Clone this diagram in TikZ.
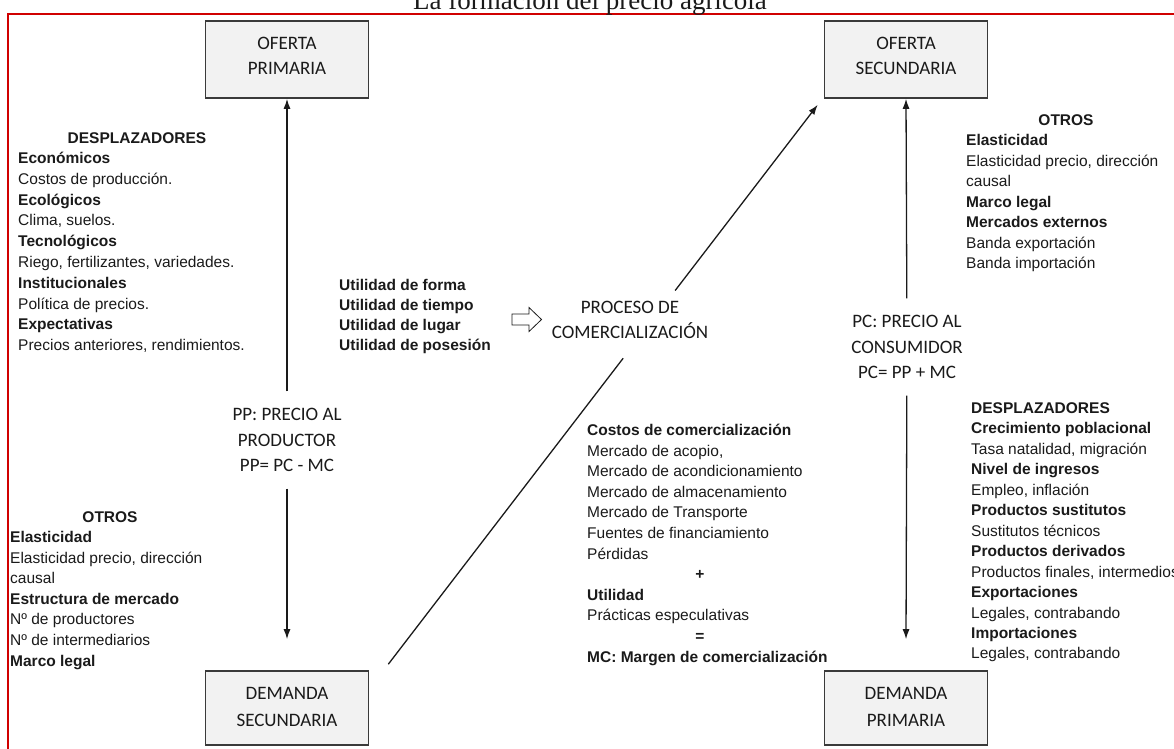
\documentclass[tikz,border=0pt]{standalone}
\usepackage{fontspec}
\setmainfont{Liberation Sans}
\newfontfamily\CalibriLike{Carlito}
\newfontfamily\TimesLike{Liberation Serif}
\usetikzlibrary{arrows.meta,calc}
\definecolor{framered}{HTML}{D00000}
\definecolor{boxfill}{HTML}{F2F2F2}
\definecolor{boxline}{HTML}{3A3A3A}
\definecolor{ink}{HTML}{1A1A1A}

\begin{document}
\begin{tikzpicture}[x=1pt,y=-1pt,
  caja/.style={draw=boxline, fill=boxfill, line width=1.6pt, minimum width=163pt,
    minimum height=75pt, align=center, inner sep=0pt,
    font=\CalibriLike\fontsize{19}{27}\selectfont, text=ink},
  lbl/.style={align=center, inner sep=0pt, outer ysep=17pt,
    font=\CalibriLike\fontsize{19}{25.5}\selectfont, text=ink},
  lst/.style={anchor=base west, inner sep=0pt, font=\fontsize{15.5}{18}\selectfont, text=ink},
  hdr/.style={anchor=base, inner sep=0pt, font=\bfseries\fontsize{15.5}{18}\selectfont, text=ink},
  linea/.style={draw=ink, line width=1.3pt},
  flecha/.style={linea, -{Latex[length=10pt,width=7pt]}}
]
\useasboundingbox (0,0) rectangle (1174,748);

% red frame, open towards the right and bottom edges
\draw[framered, line width=2pt] (1190,14) -- (8,14) -- (8,760);

% title
\node[anchor=base, inner sep=0pt, font=\TimesLike\fontsize{27}{30}\selectfont, text=ink]
  (titulo) at (590,9.5) {La formación del precio agrícola};

% the four market boxes (the rule in the last line lifts the text a little)
\node[caja, minimum height=77pt] (ofp)  at (287,59.5)
  {OFERTA\\[-2pt]PRIMARIA\rule[-8pt]{0pt}{0pt}};
\node[caja, minimum height=77pt] (osec) at (906,59.5)
  {OFERTA\\[-2pt]SECUNDARIA\rule[-8pt]{0pt}{0pt}};
\node[caja, minimum height=74pt] (dsec) at (287,708)
  {DEMANDA\\SECUNDARIA\rule[-3pt]{0pt}{0pt}};
\node[caja, minimum height=74pt] (dpri) at (906,708)
  {DEMANDA\\PRIMARIA\rule[-3pt]{0pt}{0pt}};

% price labels on the vertical axes
\node[lbl] (pp) at (287,440) {PP: PRECIO AL\\PRODUCTOR\\PP= PC - MC};
\node[lbl] (pc) at (907,347) {PC: PRECIO AL\\CONSUMIDOR\\PC= PP + MC};
\node[lbl, outer ysep=0pt] (proc) at (630,320) {PROCESO DE\\COMERCIALIZACIÓN};

% vertical arrows
\draw[flecha] (pp) -- (ofp.south);
\draw[flecha] (pp) -- ($(dsec.north)+(0,-31)$);
\draw[flecha] (pc) -- (osec.south);
\draw[flecha] (pc) -- ($(dpri.north)+(0,-31)$);

% diagonal through the marketing process
\coordinate (dlow)  at ($(dsec.north east)+(19,-6)$);
\coordinate (dhigh) at ($(osec.south west)+(-6,6)$);
\draw[linea] (dlow) -- ($(dlow)!0.547!(dhigh)$);
\draw[flecha] ($(dlow)!0.668!(dhigh)$) -- (dhigh);

% hollow arrow towards the process
\draw[draw=ink, line width=0.8pt, fill=white]
  (512,314) -- (529,314) -- (529,307.5) -- (541.5,319.5) -- (529,331.5) -- (529,325) -- (512,325) -- cycle;

% supply shifters (left, top)
\node[hdr] (despA) at (137,143.5) {DESPLAZADORES};
\foreach \t [count=\i from 0] in {{\textbf{Económicos}}, {Costos de producción.},
    {\textbf{Ecológicos}}, {Clima, suelos.}, {\textbf{Tecnológicos}},
    {Riego, fertilizantes, variedades.}, {\textbf{Institucionales}},
    {Política de precios.}, {\textbf{Expectativas}}, {Precios anteriores, rendimientos.}}
  \node[lst] (izq\i) at (18,163.5+20.8*\i) {\t};

% utilities
\foreach \t [count=\i from 0] in {Utilidad de forma, Utilidad de tiempo,
    Utilidad de lugar, Utilidad de posesión}
  \node[lst, font=\bfseries\fontsize{15.5}{18}\selectfont] (util\i) at (339,290+20*\i) {\t};

% others (left, bottom)
\node[hdr] (otrA) at (110,522) {OTROS};
\foreach \t [count=\i from 0] in {{\textbf{Elasticidad}}, {Elasticidad precio, dirección},
    {causal}, {\textbf{Estructura de mercado}}, {Nº de productores},
    {Nº de intermediarios}, {\textbf{Marco legal}}}
  \node[lst] (otrI\i) at (10,542.5+20.6*\i) {\t};

% marketing margin
\foreach \i/\t in {0/{\textbf{Costos de comercialización}}, 1/{Mercado de acopio,},
    2/{Mercado de acondicionamiento}, 3/{Mercado de almacenamiento},
    4/{Mercado de Transporte}, 5/{Fuentes de financiamiento}, 6/{Pérdidas},
    8/{\textbf{Utilidad}}, 9/{Prácticas especulativas},
    11/{\textbf{MC: Margen de comercialización}}}
  \node[lst] (mc\i) at (587,435.5+20.6*\i) {\t};
\node[hdr] (mas)   at (700,579.7) {+};
\node[hdr] (igual) at (700,641.5) {=};

% others (right, top)
\node[hdr] (otrB) at (1066,125) {OTROS};
\foreach \t [count=\i from 0] in {{\textbf{Elasticidad}}, {Elasticidad precio, dirección},
    {causal}, {\textbf{Marco legal}}, {\textbf{Mercados externos}},
    {Banda exportación}, {Banda importación}}
  \node[lst] (otrD\i) at (966,145.5+20.5*\i) {\t};

% demand shifters (right, bottom)
\foreach \t [count=\i from 0] in {{\textbf{DESPLAZADORES}}, {\textbf{Crecimiento poblacional}},
    {Tasa natalidad, migración}, {\textbf{Nivel de ingresos}}, {Empleo, inflación},
    {\textbf{Productos sustitutos}}, {Sustitutos técnicos}, {\textbf{Productos derivados}},
    {Productos finales, intermedios}, {\textbf{Exportaciones}}, {Legales, contrabando},
    {\textbf{Importaciones}}, {Legales, contrabando}}
  \node[lst] (der\i) at (971,413.5+20.45*\i) {\t};
\end{tikzpicture}
\end{document}
